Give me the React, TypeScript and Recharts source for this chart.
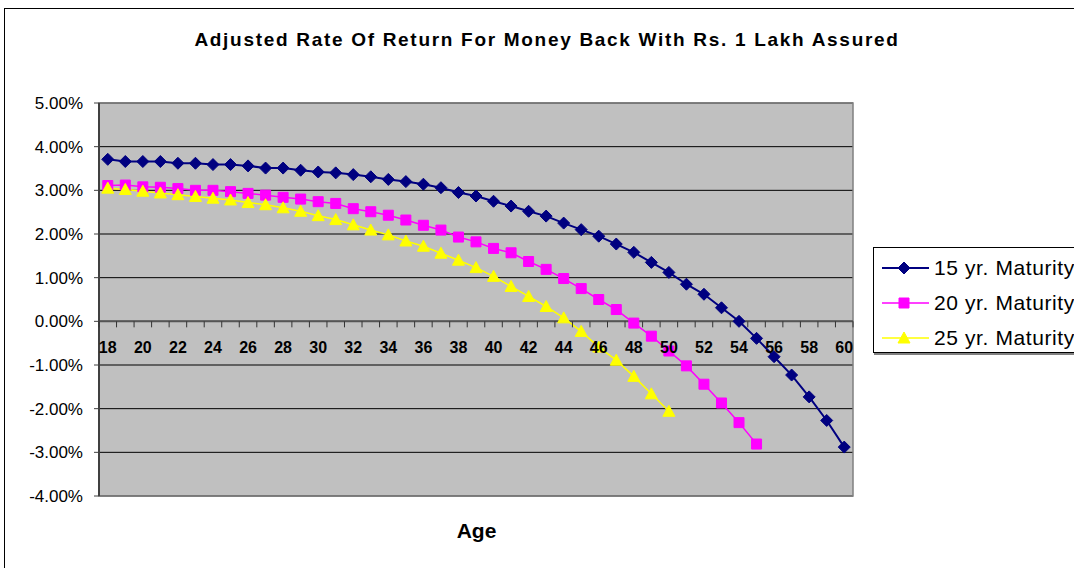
import React from 'react';
import { LineChart, Line, XAxis, YAxis, CartesianGrid, ReferenceLine, ReferenceArea } from 'recharts';

// ages on the category axis
const AGES = [
  18, 19, 20, 21, 22, 23, 24, 25, 26, 27, 28, 29, 30, 31, 32, 33, 34, 35, 36, 37, 38, 39,
  40, 41, 42, 43, 44, 45, 46, 47, 48, 49, 50, 51, 52, 53, 54, 55, 56, 57, 58, 59, 60,
];

// adjusted return in %, age 18..60
const MATURITY_15 = [
  3.71, 3.66, 3.66, 3.66, 3.62, 3.62, 3.59, 3.59, 3.56, 3.51, 3.51, 3.46, 3.42, 3.40, 3.36,
  3.31, 3.25, 3.20, 3.14, 3.06, 2.95, 2.87, 2.75, 2.64, 2.52, 2.41, 2.25, 2.10, 1.95, 1.77,
  1.58, 1.35, 1.12, 0.85, 0.62, 0.31, 0.0, -0.39, -0.81, -1.23, -1.73, -2.27, -2.88,
];

// age 18..55
const MATURITY_20 = [
  3.11, 3.12, 3.08, 3.07, 3.04, 3.0, 3.0, 2.97, 2.93, 2.89, 2.84, 2.8, 2.74, 2.7, 2.58,
  2.51, 2.43, 2.32, 2.2, 2.09, 1.93, 1.82, 1.67, 1.57, 1.37, 1.19, 0.98, 0.75, 0.5, 0.27,
  -0.04, -0.34, -0.68, -1.02, -1.44, -1.87, -2.32, -2.81,
];

// age 18..50
const MATURITY_25 = [
  3.05, 3.02, 2.98, 2.94, 2.9, 2.86, 2.82, 2.78, 2.72, 2.67, 2.6, 2.52, 2.42, 2.33, 2.21,
  2.09, 1.98, 1.84, 1.72, 1.56, 1.4, 1.23, 1.03, 0.8, 0.57, 0.34, 0.08, -0.23, -0.59, -0.89,
  -1.26, -1.66, -2.06,
];

const Y_TICKS = [5, 4, 3, 2, 1, 0, -1, -2, -3, -4];

const SERIES = [
  { key: 'm15', name: '15 yr. Maturity', color: '#000080', shape: 'diamond', width: 2 },
  { key: 'm20', name: '20 yr. Maturity', color: '#FF00FF', shape: 'square', width: 1.5 },
  { key: 'm25', name: '25 yr. Maturity', color: '#FFFF00', shape: 'triangle', width: 1.5 },
];

const data = AGES.map((age, i) => ({
  age,
  m15: MATURITY_15[i] ?? null,
  m20: MATURITY_20[i] ?? null,
  m25: MATURITY_25[i] ?? null,
}));

// layout of the Excel-like plot area
const CHART_W = 1074;
const CHART_H = 568;
const PLOT_LEFT = 99;
const PLOT_TOP = 103;
const PLOT_RIGHT = 853;
const PLOT_BOTTOM = 496;
const Y_AXIS_W = 90;
const X_AXIS_H = 30;
const PLOT_W = PLOT_RIGHT - PLOT_LEFT;
const PLOT_H = PLOT_BOTTOM - PLOT_TOP;
const BAND = PLOT_W / AGES.length;
const Y_MAX = Y_TICKS[0];
const Y_MIN = Y_TICKS[Y_TICKS.length - 1];
// the category axis crosses at 0%
const ZERO_Y = PLOT_TOP + (PLOT_H * Y_MAX) / (Y_MAX - Y_MIN);

const FONT = '"Liberation Sans", Arial, sans-serif';

function markerPath(shape: string, cx: number, cy: number) {
  if (shape === 'diamond') return `M${cx},${cy - 6}L${cx + 6},${cy}L${cx},${cy + 6}L${cx - 6},${cy}Z`;
  if (shape === 'square') return `M${cx - 5},${cy - 5}h10v10h-10Z`;
  return `M${cx},${cy - 6}L${cx + 6},${cy + 5}L${cx - 6},${cy + 5}Z`;
}

function makeDot(shape: string, color: string) {
  return (props: any) => {
    const { cx, cy, index, value } = props;
    if (value == null || cy == null || isNaN(cy)) return <g key={`d-${index}`} />;
    return <path key={`d-${index}`} d={markerPath(shape, cx, cy)} fill={color} stroke={color} strokeWidth={1} />;
  };
}

// age labels sit just under the 0% line, tick marks on every category boundary
const AgeTick = (props: any) => {
  const { x, index, payload } = props;
  const left = x - BAND / 2;
  return (
    <g>
      <line x1={left} y1={ZERO_Y} x2={left} y2={ZERO_Y + 6} stroke="#333" />
      {index === AGES.length - 1 && (
        <line x1={x + BAND / 2} y1={ZERO_Y} x2={x + BAND / 2} y2={ZERO_Y + 6} stroke="#333" />
      )}
      {index % 2 === 0 && (
        <text x={x} y={ZERO_Y + 32} textAnchor="middle" fontFamily={FONT} fontWeight="bold" fontSize={16} fill="#000">
          {payload.value}
        </text>
      )}
    </g>
  );
};

export default function App() {
  return (
    <div style={{ position: 'fixed', left: 0, top: 0, width: CHART_W, height: CHART_H, overflow: 'hidden', background: '#fff', fontFamily: FONT }}>
      {/* chart area frame */}
      <div style={{ position: 'absolute', left: 4, top: 8, width: 1200, height: 700, border: '1px solid #000' }} />

      <div style={{ position: 'absolute', left: 0, top: 29, width: 1094, textAlign: 'center', fontWeight: 'bold', fontSize: 19, letterSpacing: 1.7, color: '#000' }}>
        Adjusted Rate Of Return For Money Back With Rs. 1 Lakh Assured
      </div>

      <div style={{ position: 'absolute', left: 0, top: 0 }}>
        <LineChart
          width={CHART_W}
          height={CHART_H}
          data={data}
          margin={{
            top: PLOT_TOP,
            right: CHART_W - PLOT_RIGHT,
            bottom: CHART_H - PLOT_BOTTOM - X_AXIS_H,
            left: PLOT_LEFT - Y_AXIS_W,
          }}
        >
          <CartesianGrid vertical={false} stroke="#000" fill="#C0C0C0" fillOpacity={1} />
          <XAxis
            dataKey="age"
            scale="band"
            interval={0}
            axisLine={false}
            tickLine={false}
            height={X_AXIS_H}
            tick={<AgeTick />}
          />
          <YAxis
            type="number"
            domain={[Y_MIN, Y_MAX]}
            ticks={Y_TICKS}
            width={Y_AXIS_W}
            tickFormatter={(v: number) => `${v.toFixed(2)}%`}
            axisLine={{ stroke: '#404040', strokeWidth: 2 }}
            tickLine={{ stroke: '#404040' }}
            tickSize={5}
            tickMargin={11}
            tick={{ fill: '#000', fontSize: 17, fontFamily: FONT }}
          />
          <ReferenceArea y1={Y_MIN} y2={Y_MAX} fill="none" stroke="#808080" strokeWidth={1.5} ifOverflow="visible" />
          <ReferenceLine y={0} stroke="#555" strokeWidth={2} />
          {SERIES.map((s) => (
            <Line
              key={s.key}
              dataKey={s.key}
              name={s.name}
              type="linear"
              stroke={s.color}
              strokeWidth={s.width}
              dot={makeDot(s.shape, s.color)}
              activeDot={false}
              isAnimationActive={false}
            />
          ))}
        </LineChart>
      </div>

      <div style={{ position: 'absolute', left: 0, top: 519, width: 953, textAlign: 'center', fontWeight: 'bold', fontSize: 21, color: '#000' }}>
        Age
      </div>

      {/* legend */}
      <div style={{ position: 'absolute', left: 873, top: 247, width: 260, height: 104, border: '1px solid #000', background: '#fff', boxShadow: '1px 2px 0 #808080' }}>
        {SERIES.map((s, i) => (
          <div key={s.key} style={{ position: 'absolute', left: 0, top: 6 + i * 35, height: 28, display: 'flex', alignItems: 'center' }}>
            <svg width={58} height={28} style={{ display: 'block' }}>
              <line x1={8} y1={14} x2={55} y2={14} stroke={s.color} strokeWidth={s.width} />
              <path d={markerPath(s.shape, 30, 14)} fill={s.color} stroke={s.color} />
            </svg>
            <span style={{ fontSize: 21, letterSpacing: 0.6, color: '#000', marginLeft: 2, whiteSpace: 'nowrap' }}>{s.name}</span>
          </div>
        ))}
      </div>
    </div>
  );
}
